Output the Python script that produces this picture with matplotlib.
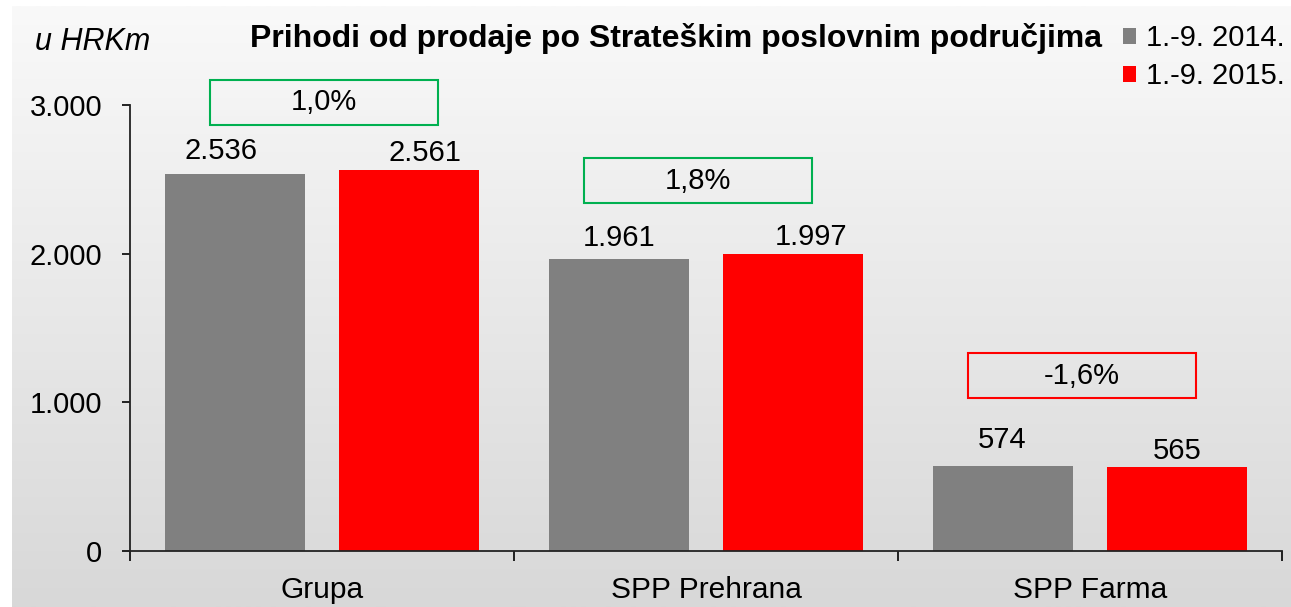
import matplotlib.pyplot as plt
from matplotlib.patches import Rectangle
from matplotlib.colors import LinearSegmentedColormap
import numpy as np

plt.rcParams['font.family'] = ['Liberation Sans', 'DejaVu Sans']

categories = ['Grupa', 'SPP Prehrana', 'SPP Farma']
series_names = ['1.-9. 2014.', '1.-9. 2015.']
values_2014 = [2536, 1961, 574]
values_2015 = [2561, 1997, 565]
changes = ['1,0%', '1,8%', '-1,6%']

colors = ['#808080', '#ff0000']
box_colors = ['#00b050', '#00b050', '#ff0000']
# layout tweaks (pixels / data units) to copy the original placement
box_x = [0.005, -0.02, -0.022]
box_y = [3020, 2490, 1180]
label_dx = [[-14, 0, -1], [16, 18, 0]]
label_dy = [[15, 13, 18], [9, 9, 8]]


def fmt(v):
    return '{:,}'.format(v).replace(',', '.')


fig = plt.figure(figsize=(12.91, 6.07), dpi=100)

# gradient background
bg = fig.add_axes([12 / 1291, 0, 1 - 12 / 1291, 601 / 607], zorder=-10)
grad = np.linspace(0, 1, 256).reshape(-1, 1)
bg.imshow(grad, aspect='auto', extent=[0, 1, 0, 1],
          cmap=LinearSegmentedColormap.from_list('g', ['#f9f9f9', '#d8d8d8']))
bg.axis('off')

ax = fig.add_axes([130 / 1291, 1 - 551 / 607, (1282 - 130) / 1291, (551 - 105) / 607])
ax.patch.set_alpha(0)

x = np.arange(len(categories))
w = 0.365
off = 0.2275
b1 = ax.bar(x - off, values_2014, w, color=colors[0], label=series_names[0])
b2 = ax.bar(x + off, values_2015, w, color=colors[1], label=series_names[1])

for k, (bars, vals) in enumerate(((b1, values_2014), (b2, values_2015))):
    for i, (r, v) in enumerate(zip(bars, vals)):
        ax.annotate(fmt(v), (r.get_x() + r.get_width() / 2, v),
                    xytext=(label_dx[k][i], label_dy[k][i]), textcoords='offset pixels',
                    ha='center', va='baseline', fontsize=21)

# change boxes
bw, bh = 0.594, 303
for i, (txt, c, y) in enumerate(zip(changes, box_colors, box_y)):
    cx = i + box_x[i]
    ax.add_patch(Rectangle((cx - bw / 2, y - bh / 2), bw, bh, fill=False, ec=c, lw=1.5,
                           clip_on=False))
    ax.text(cx, y, txt, ha='center', va='center', fontsize=21)

ax.set_xlim(-0.5, 2.5)
ax.set_ylim(0, 3000)
ax.set_yticks([0, 1000, 2000, 3000])
ax.set_yticklabels([fmt(v) for v in [0, 1000, 2000, 3000]], fontsize=21)
ax.set_xticks([-0.5, 0.5, 1.5, 2.5])
ax.set_xticklabels([])
ax.set_xticks(x, minor=True)
ax.set_xticklabels(categories, minor=True, fontsize=21.5)
ax.tick_params(axis='x', which='minor', length=0, pad=18)
ax.tick_params(axis='x', which='major', length=7, width=1.2, direction='out')
ax.tick_params(axis='y', length=6, width=1.2, direction='out', pad=14)
for s in ['top', 'right']:
    ax.spines[s].set_visible(False)
for s in ['left', 'bottom']:
    ax.spines[s].set_linewidth(1.3)
    ax.spines[s].set_color('#222222')

fig.text(150 / 1291, 1 - 42 / 607, 'u HRKm', fontsize=22, style='italic', ha='right', va='center')
fig.text(676 / 1291, 1 - 38 / 607, 'Prihodi od prodaje po Strateškim poslovnim područjima',
         fontsize=23, fontweight='bold', ha='center', va='center')

fig.legend(handles=[b1, b2], loc='upper right', bbox_to_anchor=(1.017, 1.006), frameon=False,
           fontsize=21, handlelength=0.45, handleheight=0.45, handletextpad=0.35,
           labelspacing=0.35, borderaxespad=0.55)

fig.savefig('out.png', dpi=100)
